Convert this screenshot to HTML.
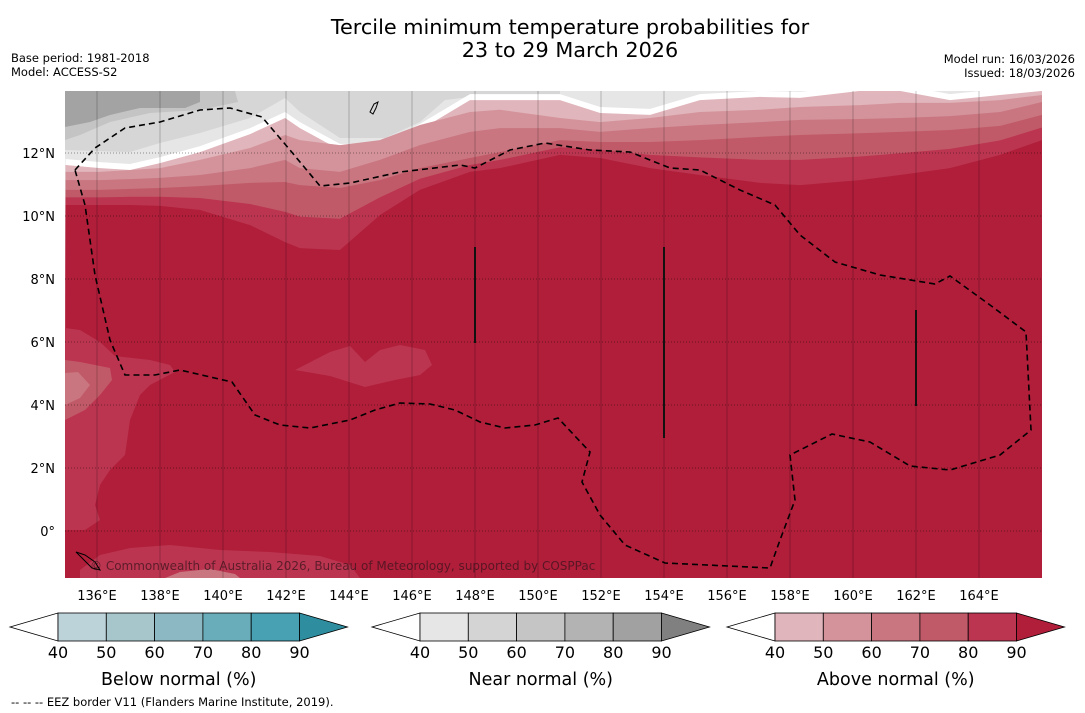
<!DOCTYPE html>
<html><head><meta charset="utf-8">
<style>
html,body{margin:0;padding:0;background:#fff;width:1085px;height:713px;overflow:hidden;font-family:"DejaVu Sans","Liberation Sans",sans-serif;}
svg text{font-family:"DejaVu Sans","Liberation Sans",sans-serif;}
</style></head>
<body>
<svg id="fig" width="1085" height="713" viewBox="0 0 1085 713" xmlns="http://www.w3.org/2000/svg">
  <text x="570" y="34" font-size="20.8" text-anchor="middle" fill="#000">Tercile minimum temperature probabilities for</text>
  <text x="570" y="57" font-size="20.8" text-anchor="middle" fill="#000">23 to 29 March 2026</text>
  <text x="11" y="62" font-size="11.5">Base period: 1981-2018</text>
  <text x="11" y="76" font-size="11.5">Model: ACCESS-S2</text>
  <text x="1075" y="63" font-size="11.5" text-anchor="end">Model run: 16/03/2026</text>
  <text x="1075" y="77" font-size="11.5" text-anchor="end">Issued: 18/03/2026</text>
  <defs><clipPath id="mapclip"><rect x="65" y="91" width="977" height="487"/></clipPath></defs>
  <g id="map" clip-path="url(#mapclip)"></g>
  <g id="axes"></g>
  <g id="bars"></g>
  <text x="11" y="706" font-size="11.5">--  --  -- EEZ border V11 (Flanders Marine Institute, 2019).</text>
</svg>
<script>
// ---- data ----
const lonTicks = [136,138,140,142,144,146,148,150,152,154,156,158,160,162,164];
const latTicks = [0,2,4,6,8,10,12];
const sampleLons = [135.0,136.1,137.05,138.0,139.27,140.86,141.97,142.44,143.71,144.98,146.25,147.84,148.79,150.7,151.97,153.56,155.14,157.05,158.32,160.22,161.49,163.08,164.67,166.0];
const lat40 = [11.62,11.52,11.46,11.68,12.03,12.60,13.11,12.79,12.10,12.10,12.73,13.68,13.68,13.68,13.27,13.21,13.68,13.78,13.75,13.97,13.97,13.68,13.84,13.97];
const lat50 = [11.40,11.40,11.46,11.52,11.78,12.16,12.57,12.41,12.25,12.41,12.89,13.30,13.37,13.11,12.98,13.11,13.30,13.37,13.46,13.52,13.59,13.59,13.68,13.84];
const lat60 = [11.14,11.14,11.17,11.21,11.30,11.52,11.78,11.52,11.40,11.78,12.25,12.67,12.79,12.79,12.67,12.79,12.89,12.98,13.05,13.08,13.11,13.17,13.30,13.62];
const lat70 = [10.83,10.83,10.86,10.89,10.95,11.05,11.08,10.98,10.89,11.14,11.52,11.84,12.03,12.41,12.35,12.35,12.41,12.51,12.57,12.63,12.67,12.73,12.86,13.21];
const lat80 = [10.59,10.59,10.61,10.61,10.57,10.38,10.13,9.98,9.91,10.59,11.18,11.62,11.78,12.18,12.10,11.94,11.86,11.78,11.78,11.89,11.99,12.13,12.40,12.81];
const lat90 = [10.35,10.35,10.35,10.32,10.19,9.71,9.17,8.98,8.92,10.03,10.83,11.40,11.52,11.94,11.84,11.52,11.30,11.05,10.98,11.14,11.30,11.52,11.94,12.41];
const levels = [40,50,60,70,80,90];
const aboveColors = ['#e0b5bb','#d4939b','#c97680','#c15a68','#bb3550','#b01e3a'];
const nearColors = ['#e6e6e6','#d4d4d4','#c5c5c5','#b3b3b3','#a1a1a1','#808080'];
const belowColors = ['#bdd3da','#a7c6cb','#8bb8c2','#6aadba','#47a1b3','#2e8ea0'];

// ---- projection ----
const X = lon => 97 + (lon-136)*31.5;
const Y = lat => 531 - lat*31.5;
const NS='http://www.w3.org/2000/svg';
function mk(tag, attrs, parent){const e=document.createElementNS(NS,tag);for(const k in attrs)e.setAttribute(k,attrs[k]);parent.appendChild(e);return e;}
const map=document.getElementById('map'), axes=document.getElementById('axes'), bars=document.getElementById('bars');

let r=mk('rect',{x:65,y:91,width:977,height:487,fill:'#e6e6e6'},map);


let g1=mk('path',{d:'M65,91 L560,91 L560,95 L470,97 L445,100 L420,122 L385,138 L340,138 L300,112 L285,98 L250,118 L200,133 L160,143 L130,152 L65,150 Z',fill:'#d6d6d6'},map);


let g2=mk('path',{d:'M65,91 L235,91 L238,102 L200,110 L150,113 L110,122 L80,135 L65,140 Z',fill:'#c4c4c4'},map);


let g3=mk('path',{d:'M65,91 L200,91 L200,102 L185,108 L140,108 L110,115 L90,122 L65,127 Z',fill:'#a3a3a3'},map);



function bandPath(lats, offsetPx){
  let d='M'+X(sampleLons[0])+','+(Y(lats[0])-offsetPx);
  for(let i=1;i<sampleLons.length;i++) d+=' L'+X(sampleLons[i]).toFixed(1)+','+(Y(lats[i])-offsetPx).toFixed(1);
  d+=' L1042,578 L65,578 Z';
  return d;
}
let w=mk('path',{d:bandPath(lat40,6),fill:'#ffffff'},map);


const bounds=[lat40,lat50,lat60,lat70,lat80,lat90];
bounds.forEach((b,i)=>{
  const p=mk('path',{d:bandPath(b,0),fill:aboveColors[i]},map);
  
  
});
const patches=[
 ['M295,370 L330,352 L350,346 L365,362 L380,350 L400,345 L425,350 L432,365 L420,375 L395,380 L365,387 L330,376 Z','#bb3550'],
 ['M65,328 L80,330 L100,342 L115,356 L150,360 L170,365 L175,372 L150,385 L140,395 L130,420 L125,455 L110,470 L100,485 L95,505 L100,520 L85,530 L65,530 Z','#bb3550'],
 ['M65,360 L80,362 L110,368 L112,380 L100,395 L85,410 L65,420 Z','#c15a68'],
 ['M65,373 L78,372 L90,385 L80,398 L65,405 Z','#c97680'],
 ['M80,570 L100,555 L130,548 L170,545 L220,550 L270,552 L320,556 L350,565 L360,578 L80,578 Z','#bb3550'],
 ['M165,578 L180,572 L210,569 L235,574 L240,578 Z','#c97680']
];
patches.forEach((pp,i)=>{
  const p=mk('path',{d:pp[0],fill:pp[1]},map);
  
  
});
lonTicks.forEach(l=>{
  const ln=mk('line',{x1:X(l),x2:X(l),y1:91,y2:578,stroke:'rgba(0,0,0,0.22)','stroke-width':1},map);
  
  
});
latTicks.forEach(l=>{
  const ln=mk('line',{x1:65,x2:1042,y1:Y(l),y2:Y(l),stroke:'rgba(0,0,0,0.4)','stroke-width':1,'stroke-dasharray':'1,2'},map);
  
  
});
[[475,247,343],[664,247,438],[916,310,406]].forEach((s,i)=>{
  const ln=mk('line',{x1:s[0],x2:s[0],y1:s[1],y2:s[2],stroke:'#111','stroke-width':2},map);
  
  
});
const eez='M75,170 L95,148 L125,128 L160,122 L200,110 L230,108 L262,117 L290,150 L320,186 L350,183 L400,172 L460,165 L475,168 L510,150 L545,143 L590,150 L630,152 L670,168 L700,170 L740,190 L775,205 L800,235 L835,262 L880,275 L935,284 L950,276 L990,305 L1026,332 L1031,430 L1000,455 L950,470 L910,466 L870,442 L832,434 L790,455 L795,500 L780,540 L770,568 L665,563 L625,545 L600,515 L582,482 L590,452 L558,418 L535,425 L505,428 L480,422 L455,410 L430,404 L400,403 L375,410 L350,420 L310,428 L280,425 L255,415 L232,382 L180,370 L155,375 L125,375 L110,340 L95,275 L85,205 Z';
const ez=mk('path',{d:eez,fill:'none',stroke:'#000','stroke-width':1.6,'stroke-dasharray':'6,4'},map);


const isl=mk('path',{d:'M370,112 L374,104 L378,102 L376,108 L373,114 Z',fill:'none',stroke:'#000','stroke-width':1},map);


const pal=mk('path',{d:'M76,552 L85,555 L95,562 L100,570 L92,568 L84,560 Z',fill:'none',stroke:'#000','stroke-width':1},map);


const cr=mk('text',{x:90,y:570,'font-size':12,fill:'rgba(60,20,30,0.75)'},map);
cr.textContent='© Commonwealth of Australia 2026, Bureau of Meteorology, supported by COSPPac';



lonTicks.forEach(l=>{
  const t=mk('text',{x:X(l),y:600,'font-size':13,'text-anchor':'middle'},axes);
  t.textContent=l+'°E';
  
  
});
latTicks.forEach(l=>{
  const t=mk('text',{x:55,y:Y(l)+5,'font-size':13,'text-anchor':'end'},axes);
  t.textContent=l===0?'0°':l+'°N';
  
  
});

function colorbar(x0, colors, title, key){
  const g=mk('g',{},bars);
  
  
  const segW=48.3, y0=613, h=28, rx=x0+48;
  const lt=mk('polygon',{points:`${x0},${y0+h/2} ${rx},${y0} ${rx},${y0+h}`,fill:'#fff',stroke:'#000','stroke-width':0.8},g);
  
  
  for(let i=0;i<5;i++){
    const s=mk('rect',{x:rx+i*segW,y:y0,width:segW,height:h,fill:colors[i],stroke:'#000','stroke-width':0.8},g);
    
    
  }
  const ex=rx+5*segW;
  const rt=mk('polygon',{points:`${ex},${y0} ${ex+48},${y0+h/2} ${ex},${y0+h}`,fill:colors[5],stroke:'#000','stroke-width':0.8},g);
  
  
  levels.forEach((lv,i)=>{
    const t=mk('text',{x:rx+i*segW,y:658,'font-size':16,'text-anchor':'middle'},g);
    t.textContent=lv;
    
    
  });
  const tt=mk('text',{x:rx+2.5*segW,y:685,'font-size':17.5,'text-anchor':'middle'},g);
  tt.textContent=title;
  
  
}
colorbar(10, belowColors, 'Below normal (%)', 'below-normal');
colorbar(372, nearColors, 'Near normal (%)', 'near-normal');
colorbar(727, aboveColors, 'Above normal (%)', 'above-normal');
</script>
</body></html>
